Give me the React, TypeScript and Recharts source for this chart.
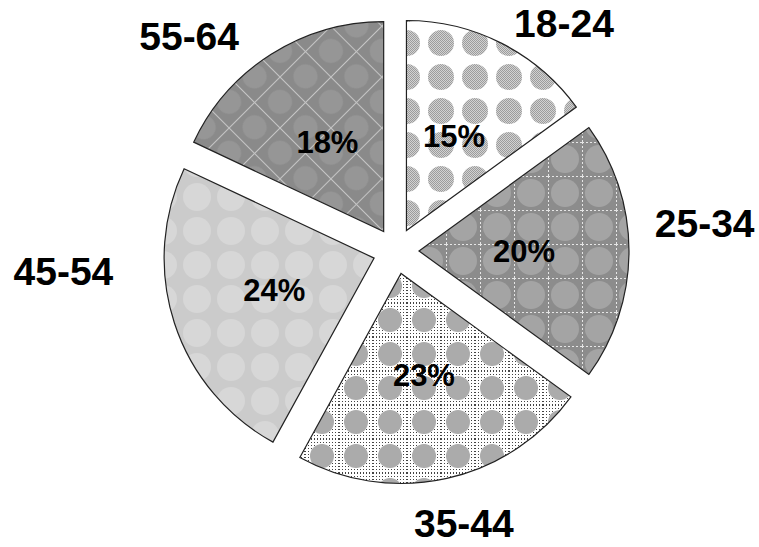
import React from "react";
import { PieChart, Pie, Cell } from "recharts";

const ageGroups = ["18-24", "25-34", "35-44", "45-54", "55-64"];
const shares = [15, 20, 23, 24, 18];

const patternIds = ["pAge1", "pAge2", "pAge3", "pAge4", "pAge5"];

// where each group's name sits, measured from the tip of its slice
const nameSpots = [
    { angle: 52.7, dist: 260 },
    { angle: 5.5, dist: 287 },
    { angle: -75.9, dist: 258 },
    { angle: 182.5, dist: 311 },
    { angle: 134.9, dist: 275.6 },
];

const data = ageGroups.map((g, i) => ({ name: g, value: shares[i] }));

const CX = 396;
const CY = 251;
const R = 210;
const EXPLODE = 23;
const RAD = Math.PI / 180;

const total = shares.reduce((a, b) => a + b, 0);
const midAngles = shares.map((v, i) => {
    const before = shares.slice(0, i).reduce((a, b) => a + b, 0);
    return 90 - ((before + v / 2) / total) * 360;
});

const font = "'Liberation Sans', Arial, sans-serif";

const Patterns = () => (
    <defs>
        <pattern id="dither" width="2" height="2" patternUnits="userSpaceOnUse">
            <rect width="2" height="2" fill="#d2d2d2" />
            <rect width="1" height="1" fill="#9c9c9c" />
            <rect x="1" y="1" width="1" height="1" fill="#9c9c9c" />
        </pattern>
        <pattern id="pAge1" width="34" height="34" patternUnits="userSpaceOnUse" x="16" y="26">
            <rect width="34" height="34" fill="#ffffff" />
            <circle cx="17" cy="17" r="13" fill="url(#dither)" />
        </pattern>
        <pattern id="pAge2" width="34" height="34" patternUnits="userSpaceOnUse" x="4" y="6">
            <rect width="34" height="34" fill="#8c8c8c" />
            <circle cx="17" cy="17" r="14" fill="#a4a4a4" />
            <path d="M0 0 L34 0 M0 0 L0 34" stroke="#e6e6e6" strokeWidth="2" strokeDasharray="2 2" />
        </pattern>
        <pattern id="fineDots" width="3" height="3" patternUnits="userSpaceOnUse">
            <rect width="3" height="3" fill="#ffffff" />
            <rect width="1" height="1" fill="#444" />
        </pattern>
        <pattern id="pAge3" width="34" height="34" patternUnits="userSpaceOnUse" x="-1" y="-3">
            <rect width="34" height="34" fill="url(#fineDots)" />
            <circle cx="17" cy="17" r="12" fill="#ababab" />
        </pattern>
        <pattern id="pAge4" width="34" height="34" patternUnits="userSpaceOnUse" x="10" y="10">
            <rect width="34" height="34" fill="#cbcbcb" />
            <circle cx="17" cy="17" r="14" fill="#d7d7d7" />
        </pattern>
        <pattern id="pAge5" width="36" height="36" patternUnits="userSpaceOnUse" patternTransform="rotate(45)">
            <rect width="36" height="36" fill="#8a8a8a" />
            <path d="M0 0 L36 0 M0 0 L0 36" stroke="#c4c4c4" strokeWidth="2" />
            <circle cx="18" cy="18" r="12" fill="#969696" />
        </pattern>
    </defs>
);

const makeLabel = (slice: number) => (props: any) => {
    const { cx, cy, midAngle, index } = props;
    if (index !== slice) return null;
    const px = cx + 105 * Math.cos(-midAngle * RAD);
    const py = cy + 105 * Math.sin(-midAngle * RAD);
    const spot = nameSpots[index];
    const nx = cx + spot.dist * Math.cos(-spot.angle * RAD);
    const ny = cy + spot.dist * Math.sin(-spot.angle * RAD);
    return (
        <g>
            <text x={px} y={py} textAnchor="middle" dominantBaseline="central"
                fontFamily={font} fontWeight="bold" fontSize={31} fill="#000">
                {`${shares[index]}%`}
            </text>
            <text x={nx} y={ny} textAnchor="middle" dominantBaseline="central"
                fontFamily={font} fontWeight="bold" fontSize={39} fill="#000">
                {ageGroups[index]}
            </text>
        </g>
    );
};

export default function App() {
    return (
        <div style={{ position: "fixed", left: 0, top: 0, background: "#fff" }}>
            <PieChart width={759} height={547} margin={{ top: 0, right: 0, bottom: 0, left: 0 }}>
                <Patterns />
                {ageGroups.map((g, i) => (
                    <Pie
                        key={g}
                        data={data}
                        dataKey="value"
                        nameKey="name"
                        cx={CX + EXPLODE * Math.cos(-midAngles[i] * RAD)}
                        cy={CY + EXPLODE * Math.sin(-midAngles[i] * RAD)}
                        outerRadius={R}
                        innerRadius={0}
                        startAngle={90}
                        endAngle={-270}
                        labelLine={false}
                        label={makeLabel(i)}
                        isAnimationActive={false}
                    >
                        {data.map((d, j) => (
                            <Cell
                                key={d.name}
                                fill={j === i ? `url(#${patternIds[j]})` : "none"}
                                stroke={j === i ? "#222" : "none"}
                                strokeWidth={1.2}
                            />
                        ))}
                    </Pie>
                ))}
            </PieChart>
        </div>
    );
}
